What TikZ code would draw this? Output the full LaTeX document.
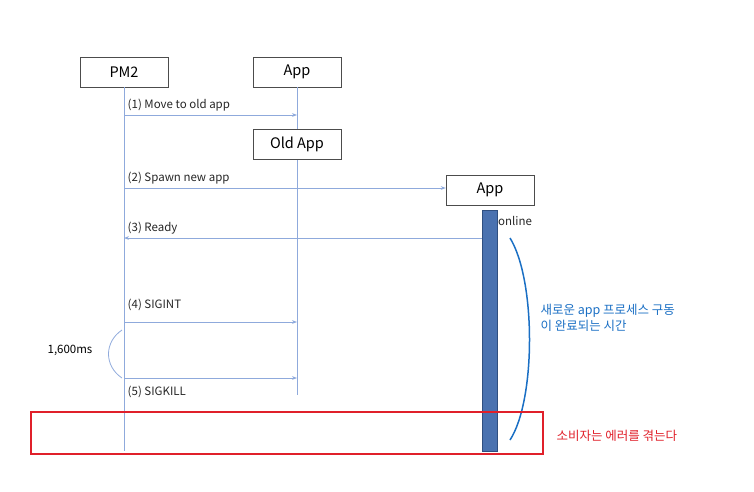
\documentclass[tikz,border=0pt]{standalone}
\usepackage{fontspec}
\setmainfont{Noto Sans CJK KR}
\usetikzlibrary{arrows.meta}
\definecolor{ln}{HTML}{8FAADC}
\definecolor{barc}{HTML}{4A72B0}
\definecolor{barb}{HTML}{2F4F80}
\definecolor{note}{HTML}{1A6FC4}
\definecolor{err}{HTML}{E0202A}
\begin{document}
\begin{tikzpicture}[x=1pt,y=-1pt,
  box/.style={draw=black!70,fill=white,minimum width=88pt,minimum height=30pt,font=\fontsize{14.5}{16}\selectfont,inner sep=0pt},
  life/.style={draw=ln,line width=0.8pt},
  msg/.style={draw=ln,line width=0.8pt,-{Stealth[length=5pt]}},
  lbl/.style={font=\fontsize{11.5}{13}\selectfont,anchor=west,text=black!85}]
\useasboundingbox (0,0) rectangle (754,491);
\node[box] (pm2) at (124,72) {PM2};
\node[box] (app) at (297,72) {App};
\coordinate (pmEnd) at (124,451);
\coordinate (appEnd) at (297,395);
\draw[life] (pm2.south) -- (pmEnd);
\draw[life] (app.south) -- (appEnd);
\node[box] (old) at (297,144) {Old App};
\node[box] (new) at (490,190) {App};
\draw[life] (497,240) -- (497,322);
\node[draw=barb,fill=barc,minimum width=15pt,minimum height=241pt,inner sep=0pt,anchor=north] (bar) at (489.5,210) {};
\node[lbl,inner sep=0pt] (onl) at (498,221) {online};
\coordinate (a1) at (124,115); \coordinate (b1) at (297,115);
\draw[msg] (a1) -- (b1) node[lbl,pos=0,anchor=south west] {(1) Move to old app};
\coordinate (a2) at (124,188);
\draw[msg] (a2) -- (new.west |- a2) node[lbl,pos=0,anchor=south west] {(2) Spawn new app};
\coordinate (a3) at (482,238); \coordinate (b3) at (124,238);
\draw[msg] (a3) -- (b3) node[lbl,pos=1,anchor=south west] {(3) Ready};
\coordinate (a4) at (124,322); \coordinate (b4) at (297,322);
\draw[msg] (a4) -- (b4) node[lbl,pos=0,anchor=south west,yshift=8pt] {(4) SIGINT};
\coordinate (a5) at (124,378); \coordinate (b5) at (297,378);
\draw[msg] (a5) -- (b5) node[lbl,pos=0,anchor=north west,yshift=-4pt] {(5) SIGKILL};
\coordinate (c1) at (122,330); \coordinate (c2) at (122,378);
\draw[ln,line width=0.8pt] (c1) .. controls (104,342) and (104,366) .. (c2);
\node[font=\fontsize{11.5}{13}\selectfont] (ms) at (70,350) {1,600ms};
\coordinate (d1) at (510,238); \coordinate (d2) at (510,440);
\draw[note,line width=1.5pt] (d1) .. controls (536,280) and (536,400) .. (d2);
\node[font=\fontsize{12.5}{16}\selectfont,text=note,anchor=west,align=left] (nt) at (537,318) {새로운 app 프로세스 구동\\이 완료되는 시간};
\node[draw=err,line width=1.5pt,minimum width=512pt,minimum height=42pt,anchor=north west,inner sep=0pt] (errb) at (30,411) {};
\node[font=\fontsize{12.5}{15}\selectfont,text=err,anchor=west] (errt) at (553,436) {소비자는 에러를 겪는다};
\end{tikzpicture}
\end{document}
